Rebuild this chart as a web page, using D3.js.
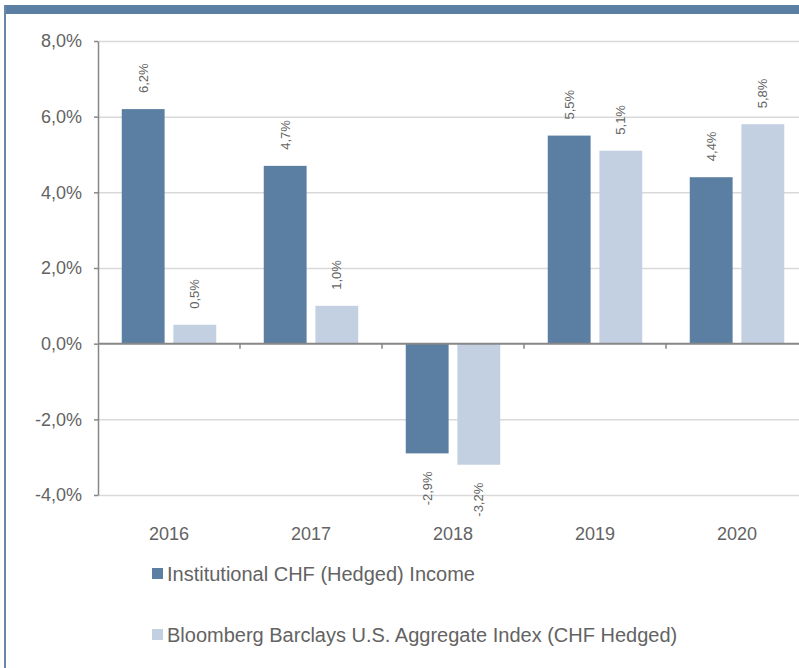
<!DOCTYPE html>
<head>
    <meta charset="utf-8">
    <title>Institutional CHF (Hedged) Income vs Bloomberg Barclays</title>
    <style>
        body {
            margin: 0;
            background: #fff;
            font-family: 'Liberation Sans', Arial, sans-serif;
        }

        text {
            fill: #636363;
        }

        .grid line {
            stroke: #d9d9d9;
            stroke-width: 1.5px;
        }

        .axis path,
        .axis line {
            stroke: #878787;
            stroke-width: 1.5px;
            fill: none;
        }
    </style>
    <script src="https://d3js.org/d3.v7.min.js"></script>
</head>

<body>
    <script type="text/javascript">
        "use strict";
        const years = ["2016", "2017", "2018", "2019", "2020"];
        const institutional = [6.2, 4.7, -2.9, 5.5, 4.4];
        const bloomberg = [0.5, 1.0, -3.2, 5.1, 5.8];
        const seriesNames = ["Institutional CHF (Hedged) Income",
            "Bloomberg Barclays U.S. Aggregate Index (CHF Hedged)"];
        const seriesColors = ["#5b7fa3", "#c3d0e2"];
        const yTicks = [-4, -2, 0, 2, 4, 6, 8];

        const width = 799, height = 668;
        const plot = { left: 98, right: 808, top: 41, bottom: 495 };

        // comma decimals, plain hyphen for negatives
        const locale = d3.formatLocale({ decimal: ",", thousands: ".", grouping: [3], currency: ["", ""], minus: "-" });
        const pct = function (d) { return locale.format(".1f")(d) + "%"; };

        const svg = d3.select("body").append("svg")
            .attr("width", width)
            .attr("height", height);

        // frame: top band + left border
        svg.append("rect")
            .attr("x", 4).attr("y", 5)
            .attr("width", width - 4).attr("height", 9)
            .attr("fill", "#5b7fa3");
        svg.append("rect")
            .attr("x", 4).attr("y", 5)
            .attr("width", 2).attr("height", height - 5)
            .attr("fill", "#6787a8");

        const x = d3.scaleBand().domain(years).range([plot.left, plot.right]);
        const xSub = d3.scaleBand().domain([0, 1])
            .range([0, x.bandwidth()])
            .paddingInner(0.17)
            .paddingOuter(0.46);
        const y = d3.scaleLinear().domain([-4, 8]).range([plot.bottom, plot.top]);

        // gridlines
        svg.append("g")
            .attr("class", "grid")
            .attr("transform", "translate(" + plot.left + ",0)")
            .call(d3.axisLeft(y).tickValues(yTicks.filter(function (d) { return d !== 0; }))
                .tickSize(-(width - plot.left)).tickFormat(""))
            .call(function (g) { g.select(".domain").remove(); });

        // bars
        const data = years.map(function (yr, i) {
            return { year: yr, values: [institutional[i], bloomberg[i]] };
        });

        const groups = svg.append("g").selectAll("g")
            .data(data)
            .enter().append("g")
            .attr("transform", function (d) { return "translate(" + x(d.year) + ",0)"; });

        groups.selectAll("rect")
            .data(function (d) { return d.values.map(function (v, k) { return { k: k, v: v }; }); })
            .enter().append("rect")
            .attr("x", function (d) { return xSub(d.k); })
            .attr("width", xSub.bandwidth())
            .attr("y", function (d) { return y(Math.max(0, d.v)); })
            .attr("height", function (d) { return Math.abs(y(d.v) - y(0)); })
            .attr("fill", function (d) { return seriesColors[d.k]; });

        groups.selectAll("text")
            .data(function (d) { return d.values.map(function (v, k) { return { k: k, v: v }; }); })
            .enter().append("text")
            .attr("transform", function (d) {
                const cx = xSub(d.k) + xSub.bandwidth() / 2;
                const cy = d.v >= 0 ? y(d.v) - 16 : y(d.v) + 18;
                return "translate(" + cx + "," + cy + ") rotate(-90)";
            })
            .attr("dy", "0.35em")
            .attr("text-anchor", function (d) { return d.v >= 0 ? "start" : "end"; })
            .style("font-size", "13px")
            .text(function (d) { return pct(d.v); });

        // y axis
        const yAxis = svg.append("g")
            .attr("class", "axis")
            .attr("transform", "translate(" + plot.left + ",0)")
            .call(d3.axisLeft(y).tickValues(yTicks).tickSize(4).tickSizeOuter(0).tickPadding(12).tickFormat(pct));
        yAxis.selectAll("text")
            .style("font-size", "18px")
            .attr("fill", "#636363");

        // zero line with category ticks
        svg.append("line")
            .attr("class", "zero")
            .attr("x1", plot.left).attr("x2", width)
            .attr("y1", y(0)).attr("y2", y(0))
            .attr("stroke", "#878787").attr("stroke-width", 2);
        svg.append("g").selectAll("line")
            .data(years.slice(1))
            .enter().append("line")
            .attr("x1", function (d) { return x(d); })
            .attr("x2", function (d) { return x(d); })
            .attr("y1", y(0)).attr("y2", y(0) + 5)
            .attr("stroke", "#878787").attr("stroke-width", 1.5);

        // category labels
        svg.append("g").selectAll("text")
            .data(years)
            .enter().append("text")
            .attr("x", function (d) { return x(d) + x.bandwidth() / 2; })
            .attr("y", 540)
            .attr("text-anchor", "middle")
            .style("font-size", "18px")
            .text(function (d) { return d; });

        // legend
        const legend = svg.append("g").selectAll("g")
            .data(seriesNames)
            .enter().append("g")
            .attr("transform", function (d, i) { return "translate(152," + (568 + i * 61) + ")"; });
        legend.append("rect")
            .attr("width", 11).attr("height", 11)
            .attr("fill", function (d, i) { return seriesColors[i]; });
        legend.append("text")
            .attr("x", 15).attr("y", 12.5)
            .style("font-size", "20px")
            .text(function (d) { return d; });
    </script>
</body>
